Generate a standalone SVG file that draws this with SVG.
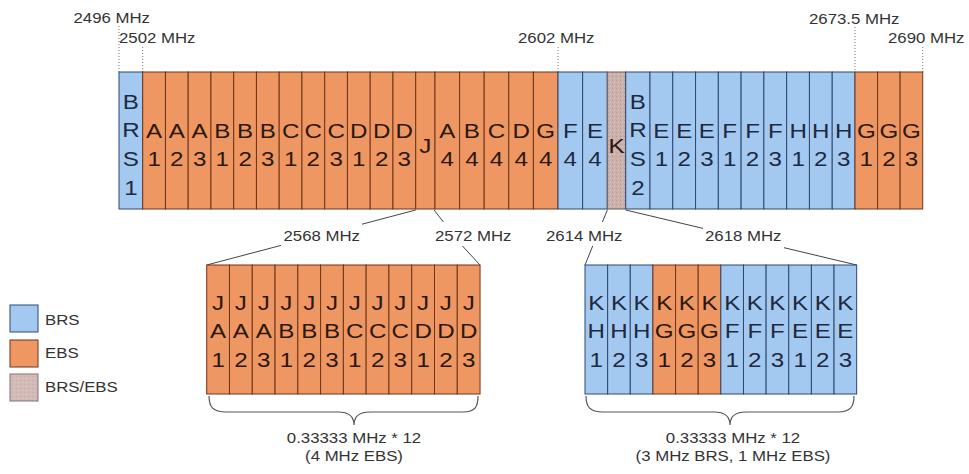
<svg xmlns="http://www.w3.org/2000/svg" width="969" height="474" viewBox="0 0 969 474">
<style>
.brs{fill:#a4c9f1;stroke:#2c4770;stroke-width:1}
.ebs{fill:#ef9763;stroke:#6e3518;stroke-width:1}
.mix{fill:url(#hatch);stroke:#6e5a58;stroke-width:1}
.ct{font-family:"Liberation Sans",Arial,sans-serif;font-size:21px;text-anchor:middle}
.tb{fill:#1e2a40}
.te{fill:#2b170b}
.lbl{font-family:"Liberation Sans",Arial,sans-serif;font-size:15px;fill:#333}
.mid{text-anchor:middle}
.dot{stroke:#777;stroke-width:1;stroke-dasharray:1 2;fill:none}
.conn{stroke:#444;stroke-width:1;fill:none}
.brace{stroke:#555;stroke-width:1.2;fill:none}
</style>
<defs>
<pattern id="hatch" width="4" height="4" patternUnits="userSpaceOnUse">
<rect width="4" height="4" fill="#ccb0ab"/>
<rect x="0" y="0" width="1" height="1" fill="#b8999a"/>
<rect x="2" y="2" width="1" height="1" fill="#dcc6c2"/>
</pattern>
</defs>

<g id="freq-labels">
<text class="lbl" transform="matrix(1.12 0 0 1 73.5 22.5)">2496 MHz</text>
<text class="lbl" transform="matrix(1.12 0 0 1 119 43)">2502 MHz</text>
<text class="lbl" transform="matrix(1.12 0 0 1 518 43)">2602 MHz</text>
<text class="lbl" transform="matrix(1.12 0 0 1 809 23.5)">2673.5 MHz</text>
<text class="lbl" transform="matrix(1.12 0 0 1 888 43)">2690 MHz</text>
<line class="dot" x1="119" y1="26" x2="119" y2="72"/>
<line class="dot" x1="142.7" y1="47" x2="142.7" y2="72"/>
<line class="dot" x1="558" y1="47" x2="558" y2="72"/>
<line class="dot" x1="855" y1="27" x2="855" y2="72"/>
<line class="dot" x1="922.7" y1="47" x2="922.7" y2="72"/>
</g>

<g id="connectors">
<line class="conn" x1="415.7" y1="210" x2="362" y2="224.2"/>
<line class="conn" x1="281" y1="245.4" x2="206.7" y2="265"/>
<line class="conn" x1="434" y1="210" x2="443.5" y2="222"/>
<line class="conn" x1="462.5" y1="246" x2="480" y2="265"/>
<line class="conn" x1="607.3" y1="210" x2="602.4" y2="222"/>
<line class="conn" x1="592.7" y1="246" x2="585" y2="265"/>
<line class="conn" x1="625.7" y1="210" x2="703" y2="228.4"/>
<line class="conn" x1="784" y1="247.7" x2="856.7" y2="265"/>
<path class="brace" d="M209,396 C209,407 213,412 226,412 L338,412 C349,412 354,417 354,425 C354,417 359,412 370,412 L463,412 C475,412 478,407 478,396"/>
<path class="brace" d="M586,396 C586,407 590,412 603,412 L714,412 C725,412 730,417 730,425 C730,417 735,412 746,412 L838,412 C850,412 854,407 854,396"/>
</g>

<g id="bottom-labels">
<text class="lbl" transform="matrix(1.12 0 0 1 283.5 241)">2568 MHz</text>
<text class="lbl" transform="matrix(1.12 0 0 1 435 241)">2572 MHz</text>
<text class="lbl" transform="matrix(1.12 0 0 1 546 241)">2614 MHz</text>
<text class="lbl" transform="matrix(1.12 0 0 1 705 241)">2618 MHz</text>
<text class="lbl mid" transform="matrix(1.12 0 0 1 354 443)">0.33333 MHz * 12</text>
<text class="lbl mid" transform="matrix(1.12 0 0 1 354 461)">(4 MHz EBS)</text>
<text class="lbl mid" transform="matrix(1.12 0 0 1 733 443)">0.33333 MHz * 12</text>
<text class="lbl mid" transform="matrix(1.12 0 0 1 733 461)">(3 MHz BRS, 1 MHz EBS)</text>
</g>

<g id="top-band">
<g id="BRS1"><rect class="brs" x="119" y="72" width="23.7" height="137"/><text class="ct tb" transform="matrix(1.15 0 0 1 130.9 108.5)"><tspan x="0">B</tspan><tspan x="0" dy="28.7">R</tspan><tspan x="0" dy="28.7">S</tspan><tspan x="0" dy="28.7">1</tspan></text></g>
<g id="A1"><rect class="ebs" x="142.7" y="72" width="22.75" height="137"/><text class="ct te" transform="matrix(1.15 0 0 1 154.1 138)"><tspan x="0">A</tspan><tspan x="0" dy="28.5">1</tspan></text></g>
<g id="A2"><rect class="ebs" x="165.45" y="72" width="22.75" height="137"/><text class="ct te" transform="matrix(1.15 0 0 1 176.8 138)"><tspan x="0">A</tspan><tspan x="0" dy="28.5">2</tspan></text></g>
<g id="A3"><rect class="ebs" x="188.2" y="72" width="22.75" height="137"/><text class="ct te" transform="matrix(1.15 0 0 1 199.6 138)"><tspan x="0">A</tspan><tspan x="0" dy="28.5">3</tspan></text></g>
<g id="B1"><rect class="ebs" x="210.95" y="72" width="22.75" height="137"/><text class="ct te" transform="matrix(1.15 0 0 1 222.3 138)"><tspan x="0">B</tspan><tspan x="0" dy="28.5">1</tspan></text></g>
<g id="B2"><rect class="ebs" x="233.7" y="72" width="22.75" height="137"/><text class="ct te" transform="matrix(1.15 0 0 1 245.1 138)"><tspan x="0">B</tspan><tspan x="0" dy="28.5">2</tspan></text></g>
<g id="B3"><rect class="ebs" x="256.45" y="72" width="22.75" height="137"/><text class="ct te" transform="matrix(1.15 0 0 1 267.8 138)"><tspan x="0">B</tspan><tspan x="0" dy="28.5">3</tspan></text></g>
<g id="C1"><rect class="ebs" x="279.2" y="72" width="22.75" height="137"/><text class="ct te" transform="matrix(1.15 0 0 1 290.6 138)"><tspan x="0">C</tspan><tspan x="0" dy="28.5">1</tspan></text></g>
<g id="C2"><rect class="ebs" x="301.95" y="72" width="22.75" height="137"/><text class="ct te" transform="matrix(1.15 0 0 1 313.3 138)"><tspan x="0">C</tspan><tspan x="0" dy="28.5">2</tspan></text></g>
<g id="C3"><rect class="ebs" x="324.7" y="72" width="22.75" height="137"/><text class="ct te" transform="matrix(1.15 0 0 1 336.1 138)"><tspan x="0">C</tspan><tspan x="0" dy="28.5">3</tspan></text></g>
<g id="D1"><rect class="ebs" x="347.45" y="72" width="22.75" height="137"/><text class="ct te" transform="matrix(1.15 0 0 1 358.8 138)"><tspan x="0">D</tspan><tspan x="0" dy="28.5">1</tspan></text></g>
<g id="D2"><rect class="ebs" x="370.2" y="72" width="22.75" height="137"/><text class="ct te" transform="matrix(1.15 0 0 1 381.6 138)"><tspan x="0">D</tspan><tspan x="0" dy="28.5">2</tspan></text></g>
<g id="D3"><rect class="ebs" x="392.95" y="72" width="22.75" height="137"/><text class="ct te" transform="matrix(1.15 0 0 1 404.3 138)"><tspan x="0">D</tspan><tspan x="0" dy="28.5">3</tspan></text></g>
<g id="J"><rect class="ebs" x="415.7" y="72" width="19.3" height="137"/><text class="ct te" transform="matrix(1.15 0 0 1 425.4 153)">J</text></g>
<g id="A4"><rect class="ebs" x="435" y="72" width="24.6" height="137"/><text class="ct te" transform="matrix(1.15 0 0 1 447.3 138)"><tspan x="0">A</tspan><tspan x="0" dy="28.5">4</tspan></text></g>
<g id="B4"><rect class="ebs" x="459.6" y="72" width="24.6" height="137"/><text class="ct te" transform="matrix(1.15 0 0 1 471.9 138)"><tspan x="0">B</tspan><tspan x="0" dy="28.5">4</tspan></text></g>
<g id="C4"><rect class="ebs" x="484.2" y="72" width="24.6" height="137"/><text class="ct te" transform="matrix(1.15 0 0 1 496.5 138)"><tspan x="0">C</tspan><tspan x="0" dy="28.5">4</tspan></text></g>
<g id="D4"><rect class="ebs" x="508.8" y="72" width="24.6" height="137"/><text class="ct te" transform="matrix(1.15 0 0 1 521.1 138)"><tspan x="0">D</tspan><tspan x="0" dy="28.5">4</tspan></text></g>
<g id="G4"><rect class="ebs" x="533.4" y="72" width="24.6" height="137"/><text class="ct te" transform="matrix(1.15 0 0 1 545.7 138)"><tspan x="0">G</tspan><tspan x="0" dy="28.5">4</tspan></text></g>
<g id="F4"><rect class="brs" x="558" y="72" width="24.65" height="137"/><text class="ct tb" transform="matrix(1.15 0 0 1 570.3 138)"><tspan x="0">F</tspan><tspan x="0" dy="28.5">4</tspan></text></g>
<g id="E4"><rect class="brs" x="582.65" y="72" width="24.65" height="137"/><text class="ct tb" transform="matrix(1.15 0 0 1 595 138)"><tspan x="0">E</tspan><tspan x="0" dy="28.5">4</tspan></text></g>
<g id="K"><rect class="mix" x="607.3" y="72" width="18.4" height="137"/><text class="ct te" transform="matrix(1.15 0 0 1 616.5 153)">K</text></g>
<g id="BRS2"><rect class="brs" x="625.7" y="72" width="24.3" height="137"/><text class="ct tb" transform="matrix(1.15 0 0 1 637.9 108.5)"><tspan x="0">B</tspan><tspan x="0" dy="28.7">R</tspan><tspan x="0" dy="28.7">S</tspan><tspan x="0" dy="28.7">2</tspan></text></g>
<g id="E1"><rect class="brs" x="650" y="72" width="22.78" height="137"/><text class="ct tb" transform="matrix(1.15 0 0 1 661.4 138)"><tspan x="0">E</tspan><tspan x="0" dy="28.5">1</tspan></text></g>
<g id="E2"><rect class="brs" x="672.78" y="72" width="22.78" height="137"/><text class="ct tb" transform="matrix(1.15 0 0 1 684.2 138)"><tspan x="0">E</tspan><tspan x="0" dy="28.5">2</tspan></text></g>
<g id="E3"><rect class="brs" x="695.56" y="72" width="22.78" height="137"/><text class="ct tb" transform="matrix(1.15 0 0 1 706.9 138)"><tspan x="0">E</tspan><tspan x="0" dy="28.5">3</tspan></text></g>
<g id="F1"><rect class="brs" x="718.33" y="72" width="22.78" height="137"/><text class="ct tb" transform="matrix(1.15 0 0 1 729.7 138)"><tspan x="0">F</tspan><tspan x="0" dy="28.5">1</tspan></text></g>
<g id="F2"><rect class="brs" x="741.11" y="72" width="22.78" height="137"/><text class="ct tb" transform="matrix(1.15 0 0 1 752.5 138)"><tspan x="0">F</tspan><tspan x="0" dy="28.5">2</tspan></text></g>
<g id="F3"><rect class="brs" x="763.89" y="72" width="22.78" height="137"/><text class="ct tb" transform="matrix(1.15 0 0 1 775.3 138)"><tspan x="0">F</tspan><tspan x="0" dy="28.5">3</tspan></text></g>
<g id="H1"><rect class="brs" x="786.67" y="72" width="22.78" height="137"/><text class="ct tb" transform="matrix(1.15 0 0 1 798.1 138)"><tspan x="0">H</tspan><tspan x="0" dy="28.5">1</tspan></text></g>
<g id="H2"><rect class="brs" x="809.44" y="72" width="22.78" height="137"/><text class="ct tb" transform="matrix(1.15 0 0 1 820.8 138)"><tspan x="0">H</tspan><tspan x="0" dy="28.5">2</tspan></text></g>
<g id="H3"><rect class="brs" x="832.22" y="72" width="22.78" height="137"/><text class="ct tb" transform="matrix(1.15 0 0 1 843.6 138)"><tspan x="0">H</tspan><tspan x="0" dy="28.5">3</tspan></text></g>
<g id="G1"><rect class="ebs" x="855" y="72" width="22.57" height="137"/><text class="ct te" transform="matrix(1.15 0 0 1 866.3 138)"><tspan x="0">G</tspan><tspan x="0" dy="28.5">1</tspan></text></g>
<g id="G2"><rect class="ebs" x="877.57" y="72" width="22.57" height="137"/><text class="ct te" transform="matrix(1.15 0 0 1 888.9 138)"><tspan x="0">G</tspan><tspan x="0" dy="28.5">2</tspan></text></g>
<g id="G3"><rect class="ebs" x="900.13" y="72" width="22.57" height="137"/><text class="ct te" transform="matrix(1.15 0 0 1 911.4 138)"><tspan x="0">G</tspan><tspan x="0" dy="28.5">3</tspan></text></g>
</g>

<g id="j-block">
<g id="JA1"><rect class="ebs" x="206.7" y="265" width="22.78" height="129"/><text class="ct te" transform="matrix(1.15 0 0 1 218.1 310)"><tspan x="0">J</tspan><tspan x="0" dy="28.5">A</tspan><tspan x="0" dy="28.5">1</tspan></text></g>
<g id="JA2"><rect class="ebs" x="229.48" y="265" width="22.78" height="129"/><text class="ct te" transform="matrix(1.15 0 0 1 240.9 310)"><tspan x="0">J</tspan><tspan x="0" dy="28.5">A</tspan><tspan x="0" dy="28.5">2</tspan></text></g>
<g id="JA3"><rect class="ebs" x="252.26" y="265" width="22.78" height="129"/><text class="ct te" transform="matrix(1.15 0 0 1 263.7 310)"><tspan x="0">J</tspan><tspan x="0" dy="28.5">A</tspan><tspan x="0" dy="28.5">3</tspan></text></g>
<g id="JB1"><rect class="ebs" x="275.04" y="265" width="22.78" height="129"/><text class="ct te" transform="matrix(1.15 0 0 1 286.4 310)"><tspan x="0">J</tspan><tspan x="0" dy="28.5">B</tspan><tspan x="0" dy="28.5">1</tspan></text></g>
<g id="JB2"><rect class="ebs" x="297.82" y="265" width="22.78" height="129"/><text class="ct te" transform="matrix(1.15 0 0 1 309.2 310)"><tspan x="0">J</tspan><tspan x="0" dy="28.5">B</tspan><tspan x="0" dy="28.5">2</tspan></text></g>
<g id="JB3"><rect class="ebs" x="320.6" y="265" width="22.78" height="129"/><text class="ct te" transform="matrix(1.15 0 0 1 332 310)"><tspan x="0">J</tspan><tspan x="0" dy="28.5">B</tspan><tspan x="0" dy="28.5">3</tspan></text></g>
<g id="JC1"><rect class="ebs" x="343.38" y="265" width="22.78" height="129"/><text class="ct te" transform="matrix(1.15 0 0 1 354.8 310)"><tspan x="0">J</tspan><tspan x="0" dy="28.5">C</tspan><tspan x="0" dy="28.5">1</tspan></text></g>
<g id="JC2"><rect class="ebs" x="366.16" y="265" width="22.78" height="129"/><text class="ct te" transform="matrix(1.15 0 0 1 377.6 310)"><tspan x="0">J</tspan><tspan x="0" dy="28.5">C</tspan><tspan x="0" dy="28.5">2</tspan></text></g>
<g id="JC3"><rect class="ebs" x="388.94" y="265" width="22.78" height="129"/><text class="ct te" transform="matrix(1.15 0 0 1 400.3 310)"><tspan x="0">J</tspan><tspan x="0" dy="28.5">C</tspan><tspan x="0" dy="28.5">3</tspan></text></g>
<g id="JD1"><rect class="ebs" x="411.72" y="265" width="22.78" height="129"/><text class="ct te" transform="matrix(1.15 0 0 1 423.1 310)"><tspan x="0">J</tspan><tspan x="0" dy="28.5">D</tspan><tspan x="0" dy="28.5">1</tspan></text></g>
<g id="JD2"><rect class="ebs" x="434.5" y="265" width="22.78" height="129"/><text class="ct te" transform="matrix(1.15 0 0 1 445.9 310)"><tspan x="0">J</tspan><tspan x="0" dy="28.5">D</tspan><tspan x="0" dy="28.5">2</tspan></text></g>
<g id="JD3"><rect class="ebs" x="457.28" y="265" width="22.78" height="129"/><text class="ct te" transform="matrix(1.15 0 0 1 468.7 310)"><tspan x="0">J</tspan><tspan x="0" dy="28.5">D</tspan><tspan x="0" dy="28.5">3</tspan></text></g>
</g>

<g id="k-block">
<g id="KH1"><rect class="brs" x="585" y="265" width="22.64" height="129"/><text class="ct tb" transform="matrix(1.15 0 0 1 596.3 310)"><tspan x="0">K</tspan><tspan x="0" dy="28.5">H</tspan><tspan x="0" dy="28.5">1</tspan></text></g>
<g id="KH2"><rect class="brs" x="607.64" y="265" width="22.64" height="129"/><text class="ct tb" transform="matrix(1.15 0 0 1 619 310)"><tspan x="0">K</tspan><tspan x="0" dy="28.5">H</tspan><tspan x="0" dy="28.5">2</tspan></text></g>
<g id="KH3"><rect class="brs" x="630.28" y="265" width="22.64" height="129"/><text class="ct tb" transform="matrix(1.15 0 0 1 641.6 310)"><tspan x="0">K</tspan><tspan x="0" dy="28.5">H</tspan><tspan x="0" dy="28.5">3</tspan></text></g>
<g id="KG1"><rect class="ebs" x="652.92" y="265" width="22.64" height="129"/><text class="ct te" transform="matrix(1.15 0 0 1 664.2 310)"><tspan x="0">K</tspan><tspan x="0" dy="28.5">G</tspan><tspan x="0" dy="28.5">1</tspan></text></g>
<g id="KG2"><rect class="ebs" x="675.56" y="265" width="22.64" height="129"/><text class="ct te" transform="matrix(1.15 0 0 1 686.9 310)"><tspan x="0">K</tspan><tspan x="0" dy="28.5">G</tspan><tspan x="0" dy="28.5">2</tspan></text></g>
<g id="KG3"><rect class="ebs" x="698.2" y="265" width="22.64" height="129"/><text class="ct te" transform="matrix(1.15 0 0 1 709.5 310)"><tspan x="0">K</tspan><tspan x="0" dy="28.5">G</tspan><tspan x="0" dy="28.5">3</tspan></text></g>
<g id="KF1"><rect class="brs" x="720.84" y="265" width="22.64" height="129"/><text class="ct tb" transform="matrix(1.15 0 0 1 732.2 310)"><tspan x="0">K</tspan><tspan x="0" dy="28.5">F</tspan><tspan x="0" dy="28.5">1</tspan></text></g>
<g id="KF2"><rect class="brs" x="743.48" y="265" width="22.64" height="129"/><text class="ct tb" transform="matrix(1.15 0 0 1 754.8 310)"><tspan x="0">K</tspan><tspan x="0" dy="28.5">F</tspan><tspan x="0" dy="28.5">2</tspan></text></g>
<g id="KF3"><rect class="brs" x="766.12" y="265" width="22.64" height="129"/><text class="ct tb" transform="matrix(1.15 0 0 1 777.4 310)"><tspan x="0">K</tspan><tspan x="0" dy="28.5">F</tspan><tspan x="0" dy="28.5">3</tspan></text></g>
<g id="KE1"><rect class="brs" x="788.76" y="265" width="22.64" height="129"/><text class="ct tb" transform="matrix(1.15 0 0 1 800.1 310)"><tspan x="0">K</tspan><tspan x="0" dy="28.5">E</tspan><tspan x="0" dy="28.5">1</tspan></text></g>
<g id="KE2"><rect class="brs" x="811.4" y="265" width="22.64" height="129"/><text class="ct tb" transform="matrix(1.15 0 0 1 822.7 310)"><tspan x="0">K</tspan><tspan x="0" dy="28.5">E</tspan><tspan x="0" dy="28.5">2</tspan></text></g>
<g id="KE3"><rect class="brs" x="834.04" y="265" width="22.64" height="129"/><text class="ct tb" transform="matrix(1.15 0 0 1 845.4 310)"><tspan x="0">K</tspan><tspan x="0" dy="28.5">E</tspan><tspan x="0" dy="28.5">3</tspan></text></g>
</g>

<g id="legend">
<g id="legend-brs"><rect class="brs" x="10" y="305" width="28" height="27"/><text class="lbl" transform="matrix(1.12 0 0 1 45 325)">BRS</text></g>
<g id="legend-ebs"><rect class="ebs" x="10" y="340" width="28" height="27"/><text class="lbl" transform="matrix(1.12 0 0 1 45 358)">EBS</text></g>
<g id="legend-mix"><rect x="10" y="374" width="28" height="27" fill="url(#hatch)" stroke="#6e5a58" stroke-width="1" opacity="0.85"/><text class="lbl" transform="matrix(1.12 0 0 1 45 391.5)">BRS/EBS</text></g>
</g>
</svg>
